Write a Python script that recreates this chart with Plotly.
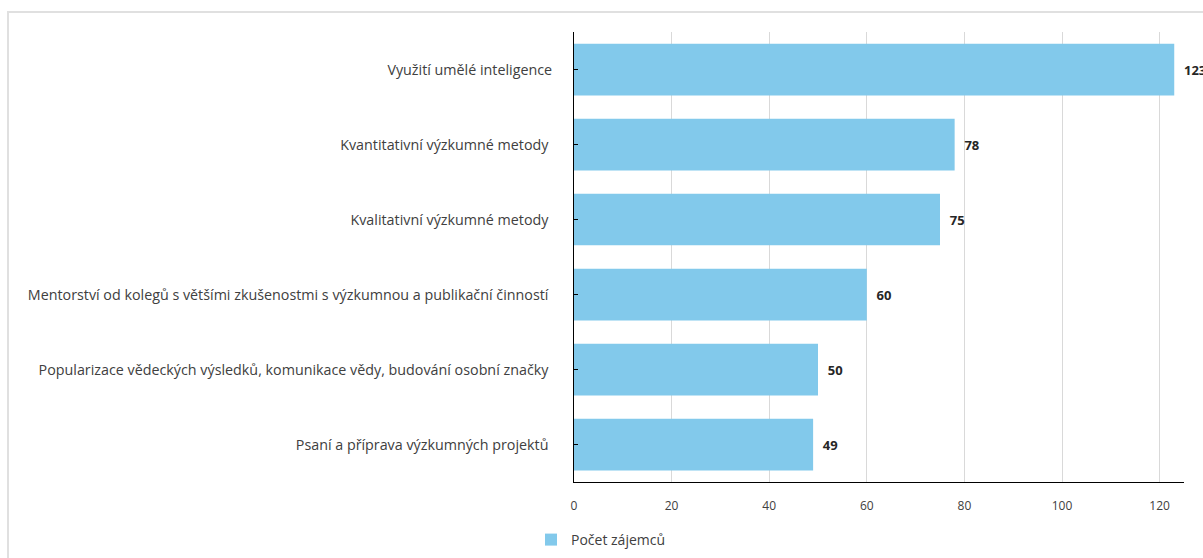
import plotly.graph_objects as go

categories = [
    "Využití umělé inteligence",
    "Kvantitativní výzkumné metody ",
    "Kvalitativní výzkumné metody ",
    "Mentorství od kolegů s většími zkušenostmi s výzkumnou a publikační činností ",
    "Popularizace vědeckých výsledků, komunikace vědy, budování osobní značky ",
    "Psaní a příprava výzkumných projektů ",
]
values = [123, 78, 75, 60, 50, 49]
series_name = "Počet zájemců"
x_ticks = [0, 20, 40, 60, 80, 100, 120]

W, H = 1203, 558
L, R, T, B = 574, 19, 32, 76
pw, ph = W - L - R, H - T - B

fig = go.Figure()
fig.add_trace(go.Bar(
    x=values, y=categories, orientation="h", name=series_name,
    marker=dict(color="#82C9EB", line=dict(width=0)),
    text=values, texttemplate="\u00a0\u00a0%{x}", textposition="outside",
    textfont=dict(family="Open Sans", size=13, color="#262626", weight="bold"),
    cliponaxis=False, showlegend=True,
))

fig.update_layout(
    width=W, height=H,
    margin=dict(l=L, r=R, t=T, b=B, autoexpand=False),
    paper_bgcolor="white", plot_bgcolor="white",
    bargap=0.31,
    font=dict(family="Open Sans", size=12, color="#404040"),
    xaxis=dict(range=[0, 125], tickvals=x_ticks, showgrid=True, gridcolor="#d9d9d9",
               gridwidth=1, zeroline=False, showline=True, linecolor="black", linewidth=1,
               ticks="", tickfont=dict(size=12, color="#404040"), ticklabelstandoff=13),
    yaxis=dict(autorange="reversed", showline=True, linecolor="black", linewidth=1,
               ticks="inside", ticklen=4, tickcolor="black", showgrid=False,
               tickfont=dict(size=14.3, color="#404040"), ticklabelstandoff=18),
    legend=dict(orientation="h", x=(531 - L) / pw, xanchor="left",
                y=-(540 - (T + ph)) / ph, yanchor="middle",
                font=dict(size=14, color="#404040"), itemwidth=30),
    shapes=[dict(type="rect", xref="paper", yref="paper",
                 x0=(8 - L) / pw, x1=(1230 - L) / pw,
                 y0=-(600 - (T + ph)) / ph, y1=1 + (T - 12) / ph,
                 line=dict(color="#e0e0e0", width=2), fillcolor="rgba(0,0,0,0)", layer="below")],
)

fig.write_html("out.html")
